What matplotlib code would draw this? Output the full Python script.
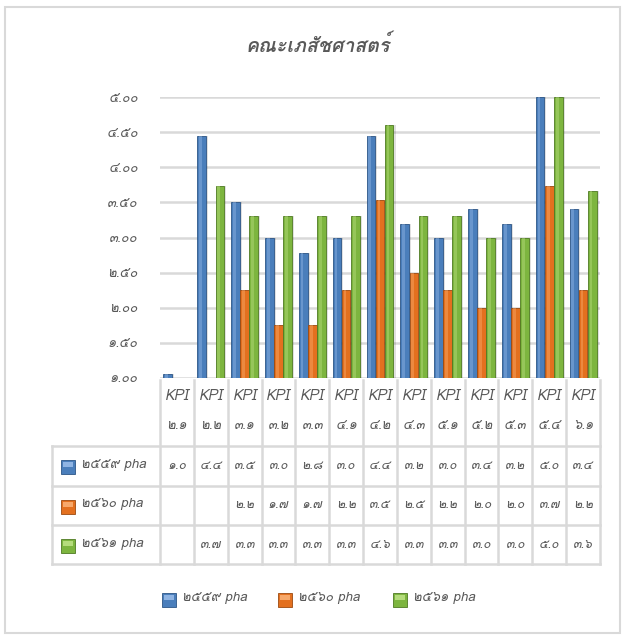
#!/usr/bin/env python3
"""Clustered column chart with data table (คณะเภสัชศาสตร์)."""

import matplotlib
matplotlib.use('Agg')
import matplotlib.pyplot as plt
from matplotlib.patches import Rectangle
import numpy as np

plt.rcParams['font.family'] = ['Loma', 'DejaVu Sans']
plt.rcParams['font.style'] = 'oblique'

TXT = '#595959'
GRID = '#d9d9d9'
COLORS = ['#4a7ebb', '#e3701f', '#7db53f']
LIGHT = ['#8fb4e3', '#f7a86a', '#b5dc7c']
DARK = ['#2c5586', '#9c4a10', '#4f7a22']

title = 'คณะเภสัชศาสตร์'
categories = ['๒.๑', '๒.๒', '๓.๑', '๓.๒', '๓.๓', '๔.๑', '๔.๒',
              '๔.๓', '๕.๑', '๕.๒', '๕.๓', '๕.๔', '๖.๑']
series_names = ['๒๕๕๙ pha', '๒๕๖๐ pha', '๒๕๖๑ pha']

# bar heights, nan = no value
pha_2559 = [1.05, 4.44, 3.50, 3.00, 2.78, 3.00, 4.44, 3.19, 3.00, 3.40, 3.19, 5.00, 3.40]
pha_2560 = [np.nan, np.nan, 2.25, 1.75, 1.75, 2.25, 3.53, 2.50, 2.25, 2.00, 2.00, 3.74, 2.25]
pha_2561 = [np.nan, 3.73, 3.31, 3.31, 3.31, 3.31, 4.60, 3.31, 3.31, 3.00, 3.00, 5.00, 3.66]

# values as printed in the data table
tbl_2559 = ['๑.๐', '๔.๔', '๓.๕', '๓.๐', '๒.๘', '๓.๐', '๔.๔', '๓.๒', '๓.๐', '๓.๔', '๓.๒', '๕.๐', '๓.๔']
tbl_2560 = ['', '', '๒.๒', '๑.๗', '๑.๗', '๒.๒', '๓.๕', '๒.๕', '๒.๒', '๒.๐', '๒.๐', '๓.๗', '๒.๒']
tbl_2561 = ['', '๓.๗', '๓.๓', '๓.๓', '๓.๓', '๓.๓', '๔.๖', '๓.๓', '๓.๓', '๓.๐', '๓.๐', '๕.๐', '๓.๖']

yticks = [1.0, 1.5, 2.0, 2.5, 3.0, 3.5, 4.0, 4.5, 5.0]
ytick_labels = ['๑.๐๐', '๑.๕๐', '๒.๐๐', '๒.๕๐', '๓.๐๐', '๓.๕๐', '๔.๐๐', '๔.๕๐', '๕.๐๐']

W, H = 624, 635
fig = plt.figure(figsize=(W / 100, H / 100), dpi=100)

# overlay axes in pixel coordinates for frame + table
ov = fig.add_axes([0, 0, 1, 1])
ov.set_xlim(0, W)
ov.set_ylim(H, 0)
ov.axis('off')
ov.add_patch(Rectangle((5, 7), 615, 626, fill=False, ec=GRID, lw=1.5))

# plot area
x0, x1, ytop, ybot = 160, 600, 97, 378
ax = fig.add_axes([x0 / W, 1 - ybot / H, (x1 - x0) / W, (ybot - ytop) / H])
n = len(categories)
x = np.arange(n)
w = 0.27
for i, vals in enumerate([pha_2559, pha_2560, pha_2561]):
    v = np.array(vals)
    pos = x + (i - 1) * w
    ax.bar(pos + 0.06, v - 1, w * 0.95, bottom=1, color='#000000', alpha=0.12, zorder=2)
    ax.bar(pos, v - 1, w * 0.95, bottom=1, color=COLORS[i], ec=DARK[i], lw=0.6, zorder=3)
    ax.bar(pos - w * 0.12, v - 1, w * 0.3, bottom=1, color=LIGHT[i], alpha=0.45, lw=0, zorder=4)
ax.set_xlim(-0.5, n - 0.5)
ax.set_ylim(1, 5)
ax.set_yticks(yticks)
ax.set_yticklabels(ytick_labels, color=TXT, fontsize=9.5)
ax.tick_params(axis='y', length=0, pad=16)
ax.set_xticks([])
ax.grid(True, axis='y', color=GRID, lw=1.8, zorder=0)
ax.set_axisbelow(True)
for s in ax.spines.values():
    s.set_visible(False)
ax.patch.set_alpha(0)

fig.text(0.51, 1 - 45 / H, title, ha='center', va='center', fontsize=14,
         fontweight='bold', color=TXT)

# data table
cw = (x1 - x0) / n
rows = [380, 446, 486, 525, 564]
lx = 52
for i in range(n + 1):
    xx = x0 + i * cw
    ov.plot([xx, xx], [rows[0], rows[-1]], color=GRID, lw=1.8)
for yy in rows[1:]:
    ov.plot([lx, x1], [yy, yy], color=GRID, lw=1.8)
ov.plot([lx, lx], [rows[1], rows[-1]], color=GRID, lw=1.8)

for i, c in enumerate(categories):
    cx = x0 + (i + 0.5) * cw
    ov.text(cx, 396, 'KPI', ha='center', va='center', fontsize=10.5, color=TXT)
    ov.text(cx, 426, c, ha='center', va='center', fontsize=9.5, color=TXT)

for r, (name, vals) in enumerate(zip(series_names, [tbl_2559, tbl_2560, tbl_2561])):
    cy = (rows[r + 1] + rows[r + 2]) / 2
    ov.add_patch(Rectangle((61, cy - 6), 14, 14, color=COLORS[r], ec=DARK[r], lw=0.6))
    ov.add_patch(Rectangle((63, cy - 4), 10, 5, color=LIGHT[r], lw=0))
    ov.text(81, cy - 1, name, ha='left', va='center', fontsize=9.5, color=TXT)
    for i, t in enumerate(vals):
        ov.text(x0 + (i + 0.5) * cw, cy, t, ha='center', va='center', fontsize=9, color=TXT)

# legend
leg_y = 600
for r, (name, lxp) in enumerate(zip(series_names, [162, 278, 393])):
    ov.add_patch(Rectangle((lxp, leg_y - 7), 14, 14, color=COLORS[r], ec=DARK[r], lw=0.6))
    ov.add_patch(Rectangle((lxp + 2, leg_y - 5), 10, 5, color=LIGHT[r], lw=0))
    ov.text(lxp + 20, leg_y - 2, name, ha='left', va='center', fontsize=9.5, color=TXT)

fig.savefig('out.png')
